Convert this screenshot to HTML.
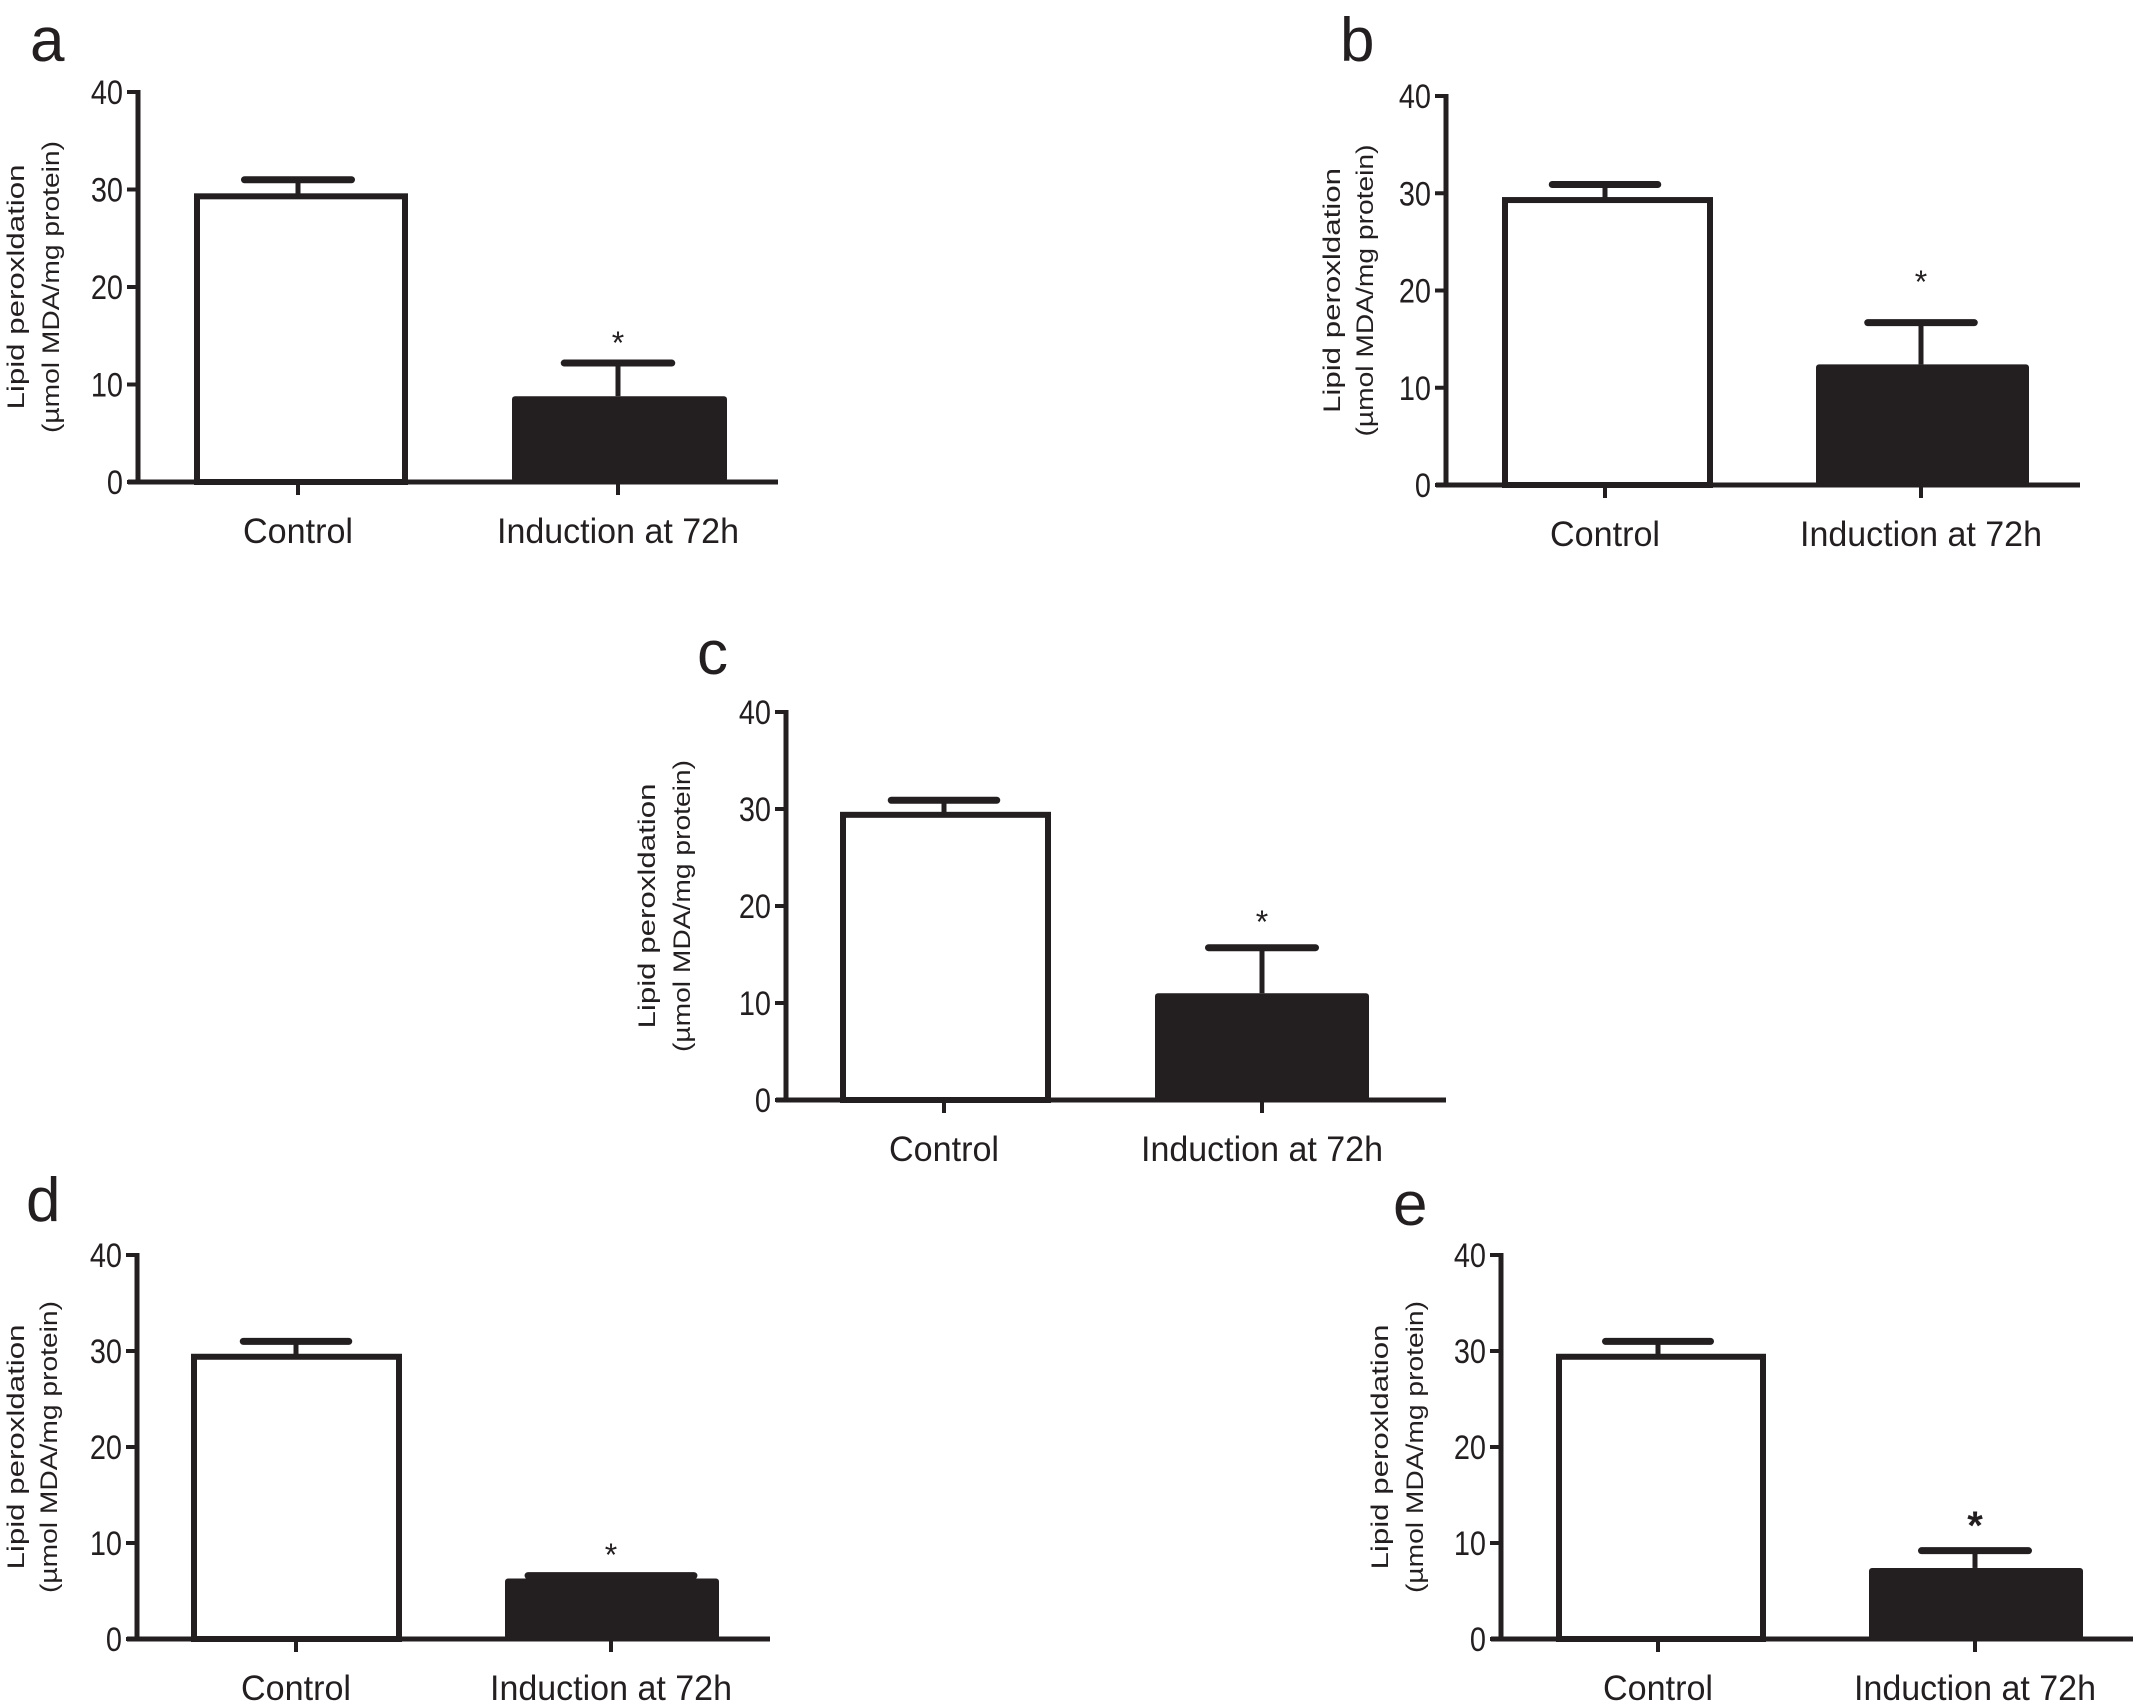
<!DOCTYPE html>
<html><head><meta charset="utf-8"><style>
html,body{margin:0;padding:0;background:#fff;}
svg{display:block;}
text{font-family:"Liberation Sans",sans-serif;fill:#231f20;}
</style></head>
<body>
<svg id="fig" width="2135" height="1706" viewBox="0 0 2135 1706" xmlns="http://www.w3.org/2000/svg"></svg>
<script>
// data
const panelLetters = ["a","b","c","d","e"];
const categories = ["Control","Induction at 72h"];
const controlMeans = [29.3, 29.3, 29.4, 29.4, 29.4];
const controlErrTop = [31.0, 30.9, 30.9, 31.0, 31.0];
const inductionMeans = [8.8, 12.4, 11.0, 6.3, 7.4];
const inductionErrTop = [12.2, 16.7, 15.7, 6.6, 9.2];
const yTicks = [0, 10, 20, 30, 40];
const yTickLabels = ["0","10","20","30","40"];

// layout (pixel geometry, not data)
const layouts = [
 {ax:138, y0:482, y40:92, xEnd:778, c:[194,408], i:[512,727], t:[298,618], lx:30, ly:61, tx1:15, tx2:50, star:337, bold:false, cap:1},
 {ax:1446, y0:485, y40:96, xEnd:2080, c:[1502,1713], i:[1816,2029], t:[1605,1921], lx:1340, ly:61, tx1:1331, tx2:1364, star:276, bold:false, cap:1},
 {ax:786, y0:1100, y40:712, xEnd:1446, c:[840,1051], i:[1155,1369], t:[944,1262], lx:697, ly:674, tx1:646, tx2:681, star:916, bold:false, cap:1},
 {ax:137, y0:1639, y40:1255, xEnd:770, c:[191,402], i:[505,719], t:[296,611], lx:26, ly:1221, tx1:15, tx2:48, star:1549, bold:false, cap:1.55},
 {ax:1501, y0:1639, y40:1255, xEnd:2133, c:[1556,1766], i:[1869,2083], t:[1658,1975], lx:1393, ly:1225, tx1:1379, tx2:1414, star:1522, bold:true, cap:1}
];

const NS = "http://www.w3.org/2000/svg";
const svg = document.getElementById("fig");
function mk(tag, attrs, parent){
  const e = document.createElementNS(NS, tag);
  for (const k in attrs) e.setAttribute(k, attrs[k]);
  (parent||svg).appendChild(e);
  return e;
}

layouts.forEach((L, p) => {
  const g = mk("g", {});
  
  
  const yS = v => L.y0 - (v / 40) * (L.y0 - L.y40);

  const lt = mk("text", {x:L.lx, y:L.ly, "font-size":62}, g);
  lt.textContent = panelLetters[p];
  
  

  const cx0 = L.c[0], cx1 = L.c[1];
  const cb = mk("rect", {x:cx0+3, y:yS(controlMeans[p]), width:cx1-cx0-6, height:L.y0-yS(controlMeans[p]), fill:"#fff", stroke:"#231f20", "stroke-width":6}, g);
  
  
  const ib = mk("rect", {x:L.i[0], y:yS(inductionMeans[p]), width:L.i[1]-L.i[0], height:L.y0-yS(inductionMeans[p]), fill:"#231f20", rx:3}, g);
  
  

  [[L.t[0], controlMeans[p], controlErrTop[p], cx1-cx0],[L.t[1], inductionMeans[p], inductionErrTop[p], L.i[1]-L.i[0]]].forEach((e, k) => {
    const hw = e[3] / 4 * (k ? L.cap : 1);
    const v = mk("line", {x1:e[0], x2:e[0], y1:yS(e[1]), y2:yS(e[2]), stroke:"#231f20", "stroke-width":5}, g);
    
    
    const cap = mk("line", {x1:e[0]-hw, x2:e[0]+hw, y1:yS(e[2]), y2:yS(e[2]), stroke:"#231f20", "stroke-width":7, "stroke-linecap":"round"}, g);
    
    
  });

  const ya = mk("line", {x1:L.ax, x2:L.ax, y1:L.y40-2, y2:L.y0+2, stroke:"#231f20", "stroke-width":5}, g);
  
  
  const xa = mk("line", {x1:L.ax-10, x2:L.xEnd, y1:L.y0, y2:L.y0, stroke:"#231f20", "stroke-width":5}, g);
  
  

  yTicks.forEach((v, k) => {
    const y = yS(v);
    const tk = mk("line", {x1:L.ax-11, x2:L.ax, y1:y, y2:y, stroke:"#231f20", "stroke-width":4}, g);
    
    
    const tl = mk("text", {x:0, y:0, "font-size":34, "text-anchor":"end", transform:`translate(${L.ax-15},${y+12}) scale(0.85,1)`}, g);
    tl.textContent = yTickLabels[k];
    
    
  });

  categories.forEach((c, k) => {
    const x = L.t[k];
    const tk = mk("line", {x1:x, x2:x, y1:L.y0, y2:L.y0+13, stroke:"#231f20", "stroke-width":4}, g);
    
    
    const tl = mk("text", {x:x, y:L.y0+61, "font-size":35, "text-anchor":"middle", textLength:k?242:110, lengthAdjust:"spacingAndGlyphs"}, g);
    tl.textContent = c;
    
    
  });

  const st = mk("text", {x:L.t[1], y:L.star+17, "font-size":L.bold?40:32, "font-weight":L.bold?"bold":"normal", "text-anchor":"middle"}, g);
  st.textContent = "*";
  
  

  const mid = (L.y0 + L.y40) / 2;
  const t1 = mk("text", {x:0, y:0, "font-size":24, "text-anchor":"middle", textLength:245, lengthAdjust:"spacingAndGlyphs", transform:`translate(${L.tx1+9},${mid}) rotate(-90)`}, g);
  t1.textContent = "Lipid peroxldation";
  
  
  const t2 = mk("text", {x:0, y:0, "font-size":24, "text-anchor":"middle", textLength:292, lengthAdjust:"spacingAndGlyphs", transform:`translate(${L.tx2+9},${mid}) rotate(-90)`}, g);
  t2.textContent = "(µmol  MDA/mg protein)";
  
  
});
</script>
</body></html>
